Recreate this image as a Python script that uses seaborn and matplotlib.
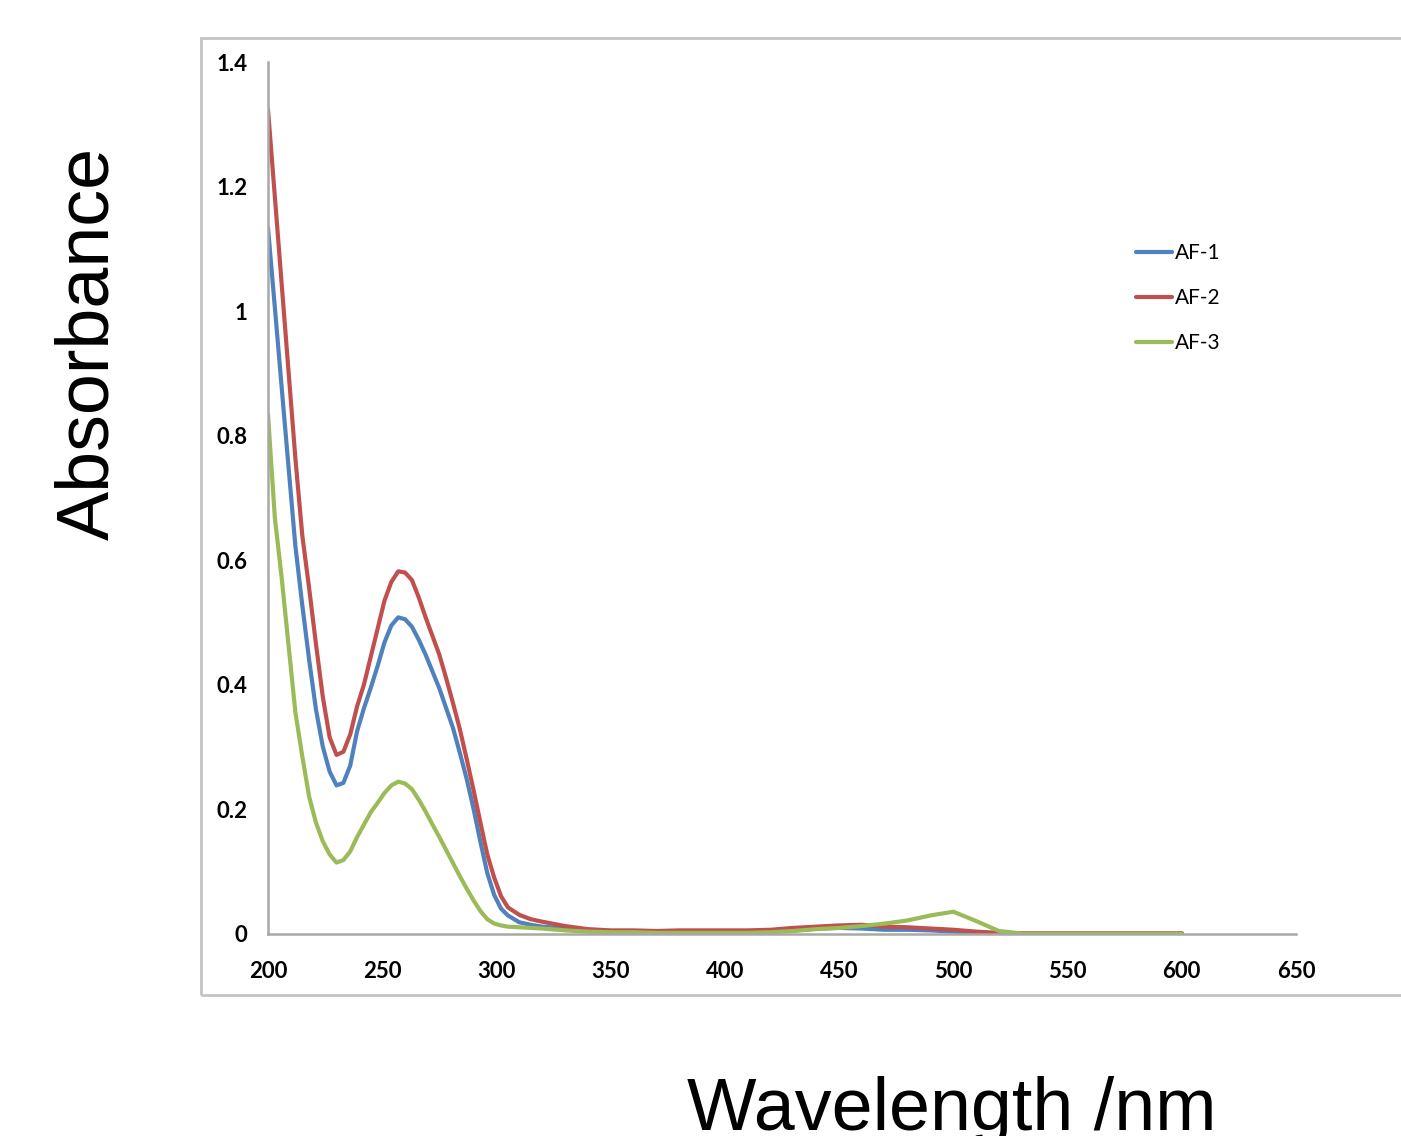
import numpy as np
import pandas as pd
import seaborn as sns
import matplotlib.pyplot as plt
from matplotlib.patches import Rectangle
from matplotlib.ticker import FuncFormatter

# wavelength grid (nm)
wavelength = [200, 203, 206, 209, 212, 215, 218, 221, 224, 227, 230, 233,
              236, 239, 242, 245, 248, 251, 254, 257, 260, 263, 266, 269,
              272, 275, 278, 281, 284, 287, 290, 293, 296, 299, 302, 305,
              310, 315, 320,
              330, 340, 350, 360, 370, 380, 390, 400, 410, 420, 430, 440,
              450, 460, 470, 480, 490, 500, 510, 520, 530, 540,
              560, 580, 600]

af1 = [1.134, 1.006, 0.877, 0.749, 0.622, 0.528, 0.44, 0.36, 0.30, 0.26, 0.238, 0.242,
       0.27, 0.325, 0.362, 0.395, 0.43, 0.468, 0.495, 0.508, 0.505, 0.493, 0.472, 0.448,
       0.421, 0.394, 0.362, 0.33, 0.29, 0.248, 0.20, 0.147, 0.097, 0.062, 0.04, 0.029,
       0.018, 0.014, 0.011,
       0.008, 0.004, 0.003, 0.003, 0.003, 0.003, 0.003, 0.003, 0.003, 0.004, 0.005, 0.008,
       0.009, 0.008, 0.006, 0.006, 0.005, 0.003, 0.001, 0.0, 0.0, 0.0,
       0.0, 0.0, 0.0]

af2 = [1.324, 1.184, 1.043, 0.903, 0.763, 0.64, 0.555, 0.465, 0.38, 0.315, 0.287, 0.292,
       0.32, 0.365, 0.40, 0.445, 0.49, 0.535, 0.565, 0.582, 0.58, 0.568, 0.54, 0.508,
       0.478, 0.448, 0.41, 0.37, 0.328, 0.28, 0.23, 0.178, 0.127, 0.09, 0.06, 0.042,
       0.030, 0.023, 0.019,
       0.012, 0.007, 0.005, 0.005, 0.004, 0.005, 0.005, 0.005, 0.005, 0.006, 0.009, 0.011,
       0.013, 0.014, 0.011, 0.010, 0.008, 0.006, 0.003, 0.001, 0.0005, 0.0005,
       0.0005, 0.0005, 0.0005]

af3 = [0.834, 0.668, 0.571, 0.463, 0.355, 0.285, 0.22, 0.178, 0.148, 0.127, 0.114, 0.118,
       0.132, 0.155, 0.175, 0.195, 0.21, 0.226, 0.238, 0.244, 0.241, 0.232, 0.215, 0.196,
       0.175, 0.155, 0.134, 0.113, 0.092, 0.072, 0.053, 0.036, 0.023, 0.016, 0.013, 0.011,
       0.010, 0.009, 0.008,
       0.005, 0.003, 0.002, 0.002, 0.001, 0.001, 0.001, 0.001, 0.001, 0.002, 0.004, 0.007,
       0.009, 0.012, 0.016, 0.021, 0.029, 0.035, 0.020, 0.004, 0.0, 0.0,
       0.0, 0.0, 0.0]

series_names = ['AF-1', 'AF-2', 'AF-3']
series_colors = ['#4F81BD', '#C0504D', '#9BBB59']
x_ticks = [200, 250, 300, 350, 400, 450, 500, 550, 600, 650]
y_ticks = [0, 0.2, 0.4, 0.6, 0.8, 1.0, 1.2, 1.4]

df = pd.DataFrame({
    'Wavelength': wavelength * 3,
    'Absorbance': af1 + af2 + af3,
    'Sample': [n for n in series_names for _ in wavelength],
})

sns.set_style('white')
plt.rcParams['font.family'] = ['Lato', 'DejaVu Sans']
plt.rcParams['text.color'] = 'black'

fig = plt.figure(figsize=(14.01, 11.36), dpi=100)
ax = fig.add_axes([268 / 1401, 1 - 933.5 / 1136, (1296 - 268) / 1401, (933.5 - 62.3) / 1136])

# grey outer frame (right side runs off the picture)
fig.patches.append(Rectangle((201 / 1401, 1 - 995 / 1136), 1.0, (995 - 38) / 1136,
                             transform=fig.transFigure, fill=False,
                             edgecolor='#c4c4c4', linewidth=2.0, zorder=0))

sns.lineplot(data=df, x='Wavelength', y='Absorbance', hue='Sample',
             palette=series_colors, linewidth=3.0, estimator=None, sort=False, ax=ax)

ax.set_xlim(200, 650)
ax.set_ylim(0, 1.4)
ax.set_xticks(x_ticks)
ax.set_yticks(y_ticks)
ax.yaxis.set_major_formatter(FuncFormatter(lambda v, p: f'{v:g}'))
ax.set_xlabel('')
ax.set_ylabel('')

for s in ['top', 'right']:
    ax.spines[s].set_visible(False)
for s in ['left', 'bottom']:
    ax.spines[s].set_color('#a8a8a8')
    ax.spines[s].set_linewidth(1.8)

ax.tick_params(axis='both', direction='out', length=5, width=1.6, color='#a8a8a8',
               labelsize=16, labelcolor='black')
ax.tick_params(axis='y', pad=10)
ax.tick_params(axis='x', pad=15)
for lab in ax.get_xticklabels() + ax.get_yticklabels():
    lab.set_fontweight('bold')

handles, labels = ax.get_legend_handles_labels()
leg = ax.legend(handles, labels, loc='upper left', bbox_to_anchor=(1136 / 1401, 1 - 243 / 1136),
                bbox_transform=fig.transFigure, frameon=False, fontsize=15,
                handlelength=1.75, handletextpad=0.1, labelspacing=1.2,
                borderpad=0, borderaxespad=0)
for t in leg.get_texts():
    t.set_color('black')

fig.text(108 / 1401, 1 - 343 / 1136, 'Absorbance', rotation=90, rotation_mode='anchor',
         ha='center', va='baseline', fontsize=53, color='black',
         family=['Liberation Sans', 'DejaVu Sans'])
fig.text(952 / 1401, 1 - 1130 / 1136, 'Wavelength /nm', ha='center', va='baseline',
         fontsize=53, color='black', family=['Liberation Sans', 'DejaVu Sans'])

fig.savefig('out.png', dpi=100)
